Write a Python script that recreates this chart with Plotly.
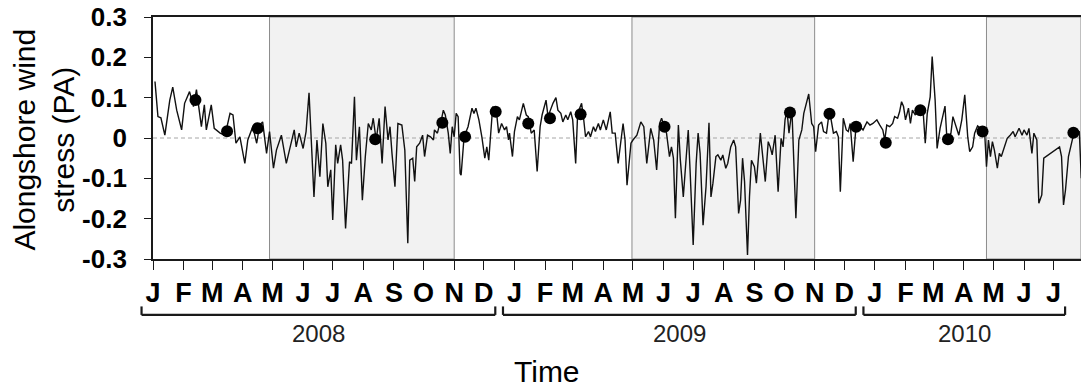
import pandas as pd
import plotly.graph_objects as go

# Alongshore wind stress time series: day offset from 1 Jan 2008, stress (Pa)
stress_day = [
    2, 5, 8, 12, 17, 20, 24, 29, 32, 37, 41, 44, 49, 52, 54, 59, 62, 68, 73, 78,
    81, 84, 88, 93, 96, 101, 105, 108, 111, 115, 118, 122, 125, 130, 135, 138, 143, 145, 148, 152,
    155, 158, 160, 163, 166, 169, 172, 175, 177, 180, 182, 185, 187, 190, 192, 195, 199, 201, 204, 206,
    209, 212, 215, 218, 221, 223, 226, 229, 232, 235, 238, 240, 242, 245, 248, 252, 255, 258, 260, 263,
    265, 267, 270, 273, 275, 278, 281, 284, 285, 288, 290, 292, 294, 296, 299, 301, 303, 305, 307, 309,
    311, 312, 315, 319, 323, 325, 327, 330, 333, 336, 338, 340, 344, 348, 350, 353, 356, 358, 360, 361,
    364, 366, 369, 371, 375, 378, 380, 383, 386, 389, 392, 394, 398, 400, 405, 408, 410, 413, 415, 418,
    420, 423, 425, 428, 430, 434, 436, 438, 441, 443, 446, 448, 451, 453, 456, 459, 463, 465, 468, 471,
    476, 478, 480, 484, 486, 490, 494, 497, 500, 504, 507, 510, 513, 515, 520, 523, 525, 527, 529, 532,
    534, 537, 540, 542, 544, 547, 550, 552, 554, 557, 560, 563, 565, 567, 570, 572, 575, 577, 580, 582,
    585, 588, 590, 593, 595, 597, 599, 602, 604, 606, 609, 611, 615, 617, 620, 623, 625, 627, 630, 633,
    636, 638, 640, 642, 644, 647, 648, 651, 654, 657, 659, 662, 664, 667, 669, 671, 674, 677, 679, 682,
    685, 689, 692, 694, 696, 699, 702, 704, 706, 709, 712, 716, 719, 723, 726, 729, 733, 736, 739, 741,
    743, 746, 749, 751, 754, 756, 758, 760, 762, 765, 767, 769, 772, 774, 780, 782, 784, 787, 789, 792,
    794, 797, 800, 802, 804, 808, 810, 814, 816, 819, 822, 825, 827, 830, 832, 835, 838, 842, 844, 846,
    848, 850, 852, 855, 857, 859, 863, 865, 868, 871, 873, 875, 877, 880, 882, 885, 887, 890, 892, 895,
    897, 900, 902, 918, 920, 922, 924, 927, 929, 932, 935, 938, 940,
]
stress_pa = [
    0.140, 0.053, 0.050, 0.007, 0.094, 0.126, 0.069, 0.020, 0.086, 0.115, 0.078, 0.120, 0.028, 0.082, 0.020, 0.082, 0.024, 0.012, 0.007, 0.061,
    0.057, -0.013, 0.003, -0.063, -0.005, 0.028, -0.013, 0.032, 0.040, -0.038, 0.016, -0.075, -0.030, 0.007, -0.063, -0.030, 0.020, -0.022, 0.012, -0.026,
    0.016, 0.112, -0.005, -0.146, -0.005, -0.096, 0.036, -0.013, -0.121, -0.079, -0.203, -0.017, -0.063, -0.017, -0.055, -0.224, -0.059, -0.063, 0.102, -0.055,
    0.028, -0.154, -0.046, 0.036, 0.020, 0.049, -0.005, 0.049, -0.063, 0.078, -0.005, 0.028, -0.038, -0.121, 0.036, 0.032, -0.030, -0.261, -0.055, -0.050,
    -0.108, -0.022, -0.013, 0.007, -0.046, 0.007, 0.003, -0.005, 0.020, 0.012, 0.032, 0.045, 0.069, 0.057, 0.012, -0.038, 0.028, 0.003, 0.061, 0.053,
    -0.088, -0.092, 0.003, 0.028, 0.074, 0.061, 0.074, 0.045, 0.003, -0.050, -0.022, -0.055, 0.078, 0.061, 0.012, 0.036, 0.020, 0.028, -0.005, 0.012,
    -0.046, 0.016, 0.053, 0.045, 0.086, 0.057, 0.053, 0.012, 0.020, -0.083, 0.028, 0.057, 0.094, 0.053, 0.086, 0.100, 0.069, 0.061, 0.040, 0.057,
    0.045, 0.065, 0.045, -0.063, 0.061, 0.086, 0.049, 0.003, 0.016, 0.003, 0.028, 0.016, 0.036, 0.020, 0.045, 0.020, 0.065, 0.012, 0.012, -0.063,
    0.036, -0.005, -0.117, -0.013, -0.005, 0.007, 0.040, 0.028, -0.063, 0.024, -0.005, -0.079, 0.036, 0.049, 0.012, -0.046, -0.022, -0.050, -0.199, 0.032,
    -0.055, -0.146, -0.046, 0.020, -0.088, -0.265, -0.063, 0.012, -0.038, -0.216, -0.121, 0.038, -0.146, -0.112, -0.046, -0.042, -0.055, -0.042, -0.075, -0.063,
    -0.022, -0.005, -0.022, -0.187, -0.154, -0.050, -0.108, -0.290, -0.146, -0.055, -0.071, -0.112, 0.012, -0.030, -0.108, -0.009, -0.022, -0.042, 0.007, -0.133,
    -0.001, -0.022, 0.045, 0.069, 0.012, 0.069, 0.012, -0.199, -0.005, 0.020, 0.061, 0.086, 0.109, 0.036, 0.028, -0.034, 0.032, 0.040, 0.016, 0.012,
    0.069, 0.012, 0.016, 0.003, -0.133, 0.049, 0.020, 0.016, 0.036, -0.059, 0.032, 0.028, 0.020, 0.040, 0.032, 0.036, 0.045, 0.032, 0.020, -0.005,
    0.032, 0.028, 0.036, 0.053, 0.049, 0.065, 0.090, 0.078, 0.045, 0.074, 0.036, 0.069, 0.057, 0.069, 0.061, -0.013, 0.061, 0.102, 0.202, 0.094,
    -0.026, 0.024, 0.061, 0.079, -0.005, 0.012, 0.053, 0.024, 0.007, 0.045, 0.107, 0.003, -0.034, -0.022, 0.012, 0.030, 0.024, 0.020, -0.071, -0.005,
    -0.046, -0.009, -0.030, -0.075, -0.038, -0.046, -0.013, -0.001, 0.007, 0.016, 0.003, 0.012, 0.024, 0.007, 0.020, 0.007, 0.024, -0.038, 0.012, -0.005,
    -0.162, -0.141, -0.050, -0.022, -0.046, -0.166, -0.129, -0.046, -0.022, 0.007, 0.020, 0.016, -0.100,
]

# Sampling dates (day offset from 1 Jan 2008) and the wind stress on those days
sample_day = [43, 75, 106, 225, 293, 316, 347, 380, 402, 433, 518, 645, 685, 712, 742, 777, 805, 840, 932]
sample_pa = [0.094, 0.017, 0.024, -0.003, 0.038, 0.003, 0.065, 0.036, 0.049, 0.059,
             0.028, 0.063, 0.060, 0.028, -0.012, 0.069, -0.003, 0.016, 0.013]

# Shaded seasons
season_start = ["2008-04-28", "2009-04-30", "2010-04-24"]
season_end = ["2008-11-01", "2009-11-01", "2010-07-28 17:00"]

# Axis labelling
month_letters = ["J", "F", "M", "A", "M", "J", "J", "A", "S", "O", "N", "D"]
years = [2008, 2009, 2010]
months_shown = [12, 12, 7]
y_tick_vals = [0.3, 0.2, 0.1, 0, -0.1, -0.2, -0.3]
y_tick_text = ["0.3", "0.2", "0.1", "0", "-0.1", "-0.2", "-0.3"]

X_START = pd.Timestamp("2008-01-01")
X_END = pd.Timestamp("2010-07-28 17:00")
FONT = "Liberation Sans, Arial, sans-serif"
INK = "#1a1a1a"

origin = pd.Timestamp("2008-01-01")
stress_dates = origin + pd.to_timedelta(stress_day, unit="D")
sample_dates = origin + pd.to_timedelta(sample_day, unit="D")

tick_dates, tick_text = [], []
for yr, n in zip(years, months_shown):
    for m in range(n):
        tick_dates.append(pd.Timestamp(year=yr, month=m + 1, day=1))
        tick_text.append("<b>%s</b>" % month_letters[m])


def to_paper(ts):
    return (ts - X_START) / (X_END - X_START)


fig = go.Figure()

fig.add_trace(go.Scatter(
    x=stress_dates, y=stress_pa, mode="lines",
    line=dict(color="#111111", width=1.4), showlegend=False,
))
fig.add_trace(go.Scatter(
    x=sample_dates, y=sample_pa, mode="markers",
    marker=dict(color="black", size=12), showlegend=False,
))

# Seasonal shading
for s, e in zip(season_start, season_end):
    fig.add_shape(type="rect", xref="x", yref="paper", x0=s, x1=e, y0=0, y1=1,
                  fillcolor="#f2f2f2", line=dict(color="#8c8c8c", width=1), layer="below")

# Dashed zero reference
fig.add_shape(type="line", xref="paper", yref="y", x0=0, x1=1, y0=0, y1=0,
              line=dict(color="#a6a6a6", width=1, dash="4px,3px"), layer="below")

# Year brackets and labels beneath the month letters
half = pd.Timedelta(days=11.6)
bar_y, hook_y = -0.231, -0.196
for yr, n in zip(years, months_shown):
    first = pd.Timestamp(year=yr, month=1, day=1)
    last = pd.Timestamp(year=yr, month=n, day=1)
    left, right = to_paper(first - half), to_paper(last + half)
    for x0, y0, x1, y1 in [(left, bar_y, right, bar_y),
                           (left, bar_y, left, hook_y),
                           (right, bar_y, right, hook_y)]:
        fig.add_shape(type="line", xref="paper", yref="paper",
                      x0=x0, y0=y0, x1=x1, y1=y1, line=dict(color=INK, width=2.2))
    mid = first + (last - first) / 2
    fig.add_annotation(x=to_paper(mid), y=-0.306, xref="paper", yref="paper",
                       text=str(yr), showarrow=False, xanchor="center", yanchor="middle",
                       font=dict(family=FONT, size=24, color="#222222"))

fig.add_annotation(x=0.4244, y=-0.463, xref="paper", yref="paper", text="Time",
                   showarrow=False, xanchor="center", yanchor="middle",
                   font=dict(family=FONT, size=30, color="black"))

fig.add_annotation(x=-0.1178, y=0.492, xref="paper", yref="paper",
                   text="Alongshore wind<br>stress (PA)", textangle=-90,
                   showarrow=False, xanchor="center", yanchor="middle",
                   font=dict(family=FONT, size=30, color="black"))

fig.update_xaxes(
    type="date", range=[X_START, X_END],
    tickmode="array", tickvals=tick_dates, ticktext=tick_text,
    ticks="outside", ticklen=9, tickwidth=1.2, tickcolor=INK,
    tickfont=dict(family=FONT, size=27, color="black"),
    showline=True, linecolor=INK, linewidth=1.8, mirror=True,
    showgrid=False, zeroline=False,
)
fig.update_yaxes(
    range=[-0.3, 0.3], tickmode="array", tickvals=y_tick_vals, ticktext=y_tick_text,
    ticks="outside", ticklen=7, tickwidth=1.2, tickcolor=INK,
    tickfont=dict(family=FONT, size=26, color="black", weight="bold"),
    ticklabelstandoff=12,
    showline=True, linecolor=INK, linewidth=1.8,
    showgrid=False, zeroline=False,
)

fig.update_layout(
    width=1083, height=387,
    margin=dict(l=153, r=2, t=17, b=128),
    paper_bgcolor="white", plot_bgcolor="white",
    showlegend=False,
)

fig.write_html("out.html")
